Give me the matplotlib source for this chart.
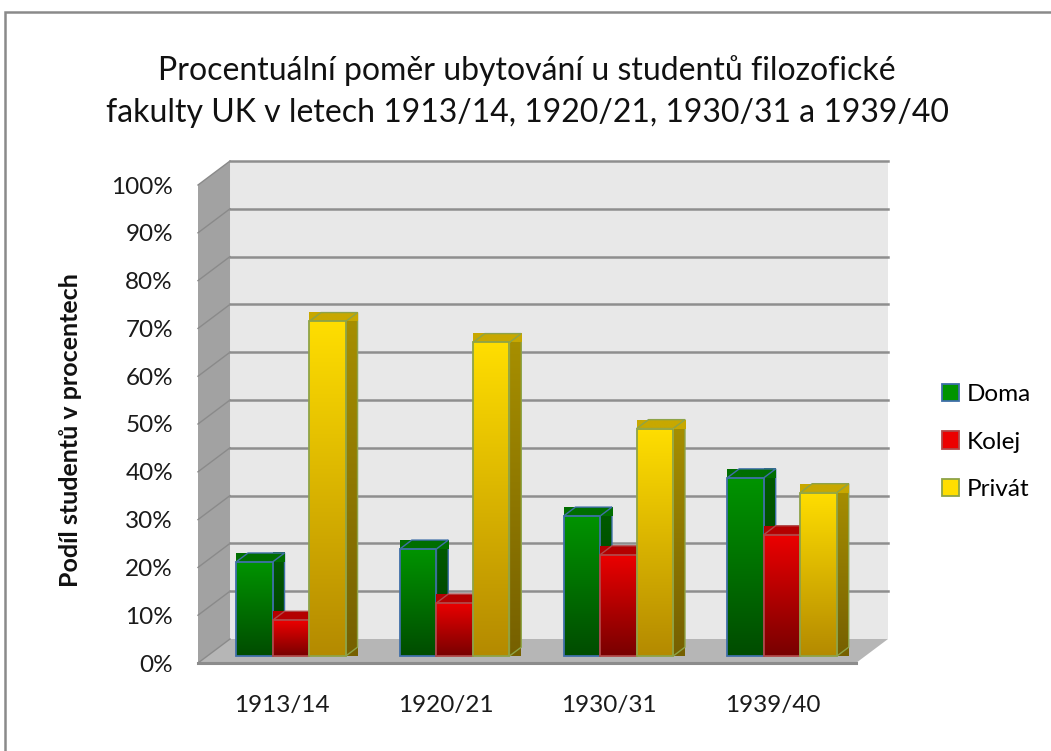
import numpy as np
import matplotlib
matplotlib.use("Agg")
import matplotlib.pyplot as plt
from matplotlib.patches import Polygon, Rectangle, Patch
from matplotlib.colors import LinearSegmentedColormap

plt.rcParams['font.family'] = ['Lato', 'DejaVu Sans']

# data (percent of students)
years = ['1913/14', '1920/21', '1930/31', '1939/40']
series = ['Doma', 'Kolej', 'Privát']
doma = [19.7, 22.4, 29.3, 37.3]
kolej = [7.5, 11.1, 21.2, 25.4]
privat = [70.0, 65.6, 47.6, 34.2]
yticks = list(range(0, 101, 10))

title = ('Procentuální poměr ubytování u studentů filozofické\n'
         'fakulty UK v letech 1913/14, 1920/21, 1930/31 a 1939/40')
ylabel = 'Podíl studentů v procentech'

# colours: (front top, front bottom, side top, side bottom, top face, edge)
styles = [
    ('#009400', '#004c00', '#005c00', '#003800', '#006e00', '#3f6fa8'),
    ('#ec0000', '#780000', '#a00000', '#5c0000', '#b40000', '#b04848'),
    ('#ffde00', '#b48a00', '#a89000', '#766000', '#c8a800', '#8ea348'),
]

W, H = 1051, 751
fig = plt.figure(figsize=(W / 100, H / 100), dpi=100)
ax = fig.add_axes([198 / W, 1 - 663 / H, (856 - 198) / W, (663 - 185) / H])
XMIN, XMAX = -0.511, 3.508
DX, DY = 32 / 163.7, 24 / 4.78   # depth offset in data units
D0, D1 = 0.29, 0.66              # bar depth range
BW = 0.223


def P(x, y, d):
    return (x + d * DX, y + d * DY)


def face(verts, c1, c2, z, edge=None, lw=1.3):
    poly = Polygon(verts, closed=True, facecolor='none',
                   edgecolor=edge if edge else 'none', lw=lw, zorder=z + 0.1,
                   clip_on=False)
    ax.add_patch(poly)
    xs = [p[0] for p in verts]
    ys = [p[1] for p in verts]
    cmap = LinearSegmentedColormap.from_list('g', [c2, c1])
    grad = np.linspace(0, 1, 128).reshape(-1, 1)
    im = ax.imshow(grad, extent=[min(xs), max(xs), min(ys), max(ys)],
                   origin='lower', cmap=cmap, aspect='auto', zorder=z,
                   interpolation='bilinear', clip_on=False)
    im.set_clip_path(poly)


# walls
back = [P(XMIN, 0, 1), P(XMAX, 0, 1), P(XMAX, 100, 1), P(XMIN, 100, 1)]
ax.add_patch(Polygon(back, closed=True, facecolor='#e8e8e8', edgecolor='none',
                     zorder=1, clip_on=False))
left = [P(XMIN, 0, 0), P(XMIN, 0, 1), P(XMIN, 100, 1), P(XMIN, 100, 0)]
ax.add_patch(Polygon(left, closed=True, facecolor='#a2a2a2', edgecolor='none',
                     zorder=1, clip_on=False))
floor = [P(XMIN, 0, 0), P(XMAX, 0, 0), P(XMAX, 0, 1), P(XMIN, 0, 1)]
ax.add_patch(Polygon(floor, closed=True, facecolor='#b6b6b6', edgecolor='none',
                     zorder=1, clip_on=False))
ax.plot([P(XMIN, 0, 0)[0], P(XMAX, 0, 0)[0]], [0, 0], color='#8c8c8c',
        lw=2.2, zorder=1.5, clip_on=False)

for t in yticks:
    a, b, c = P(XMIN, t, 0), P(XMIN, t, 1), P(XMAX, t, 1)
    ax.plot([a[0], b[0]], [a[1], b[1]], color='#8a8a8a', lw=1.0, zorder=1.2,
            clip_on=False)
    if t > 0:
        ax.plot([b[0], c[0]], [b[1], c[1]], color='#8e8e8e', lw=1.8,
                zorder=1.2, clip_on=False)

# bars
values = [doma, kolej, privat]
z = 2
for i in range(len(years)):
    for j, vals in enumerate(values):
        v = vals[i]
        ft, fb, st, sb, tc, ec = styles[j]
        xl = i + (j - 1.5) * BW
        xr = xl + BW
        front = [P(xl, 0, D0), P(xr, 0, D0), P(xr, v, D0), P(xl, v, D0)]
        side = [P(xr, 0, D0), P(xr, 0, D1), P(xr, v, D1), P(xr, v, D0)]
        top = [P(xl, v, D0), P(xr, v, D0), P(xr, v, D1), P(xl, v, D1)]
        face(side, st, sb, z, ec, 1.0)
        face(top, tc, tc, z + 0.2, ec, 1.0)
        face(front, ft, fb, z + 0.4, ec, 1.3)
        z += 1

ax.set_xlim(XMIN, XMAX)
ax.set_ylim(0, 100)
for s in ax.spines.values():
    s.set_visible(False)
ax.set_yticks(yticks, labels=[f'{t}%' for t in yticks])
ax.set_xticks(range(len(years)), labels=years)
ax.tick_params(axis='y', length=0, pad=18, labelsize=17.5, colors='#1a1a1a')
ax.tick_params(axis='x', length=0, pad=23, labelsize=17.5, colors='#1a1a1a')

fig.text(71 / W, 1 - 430 / H, ylabel, rotation=90, ha='center', va='center',
         fontsize=18, fontweight='bold', color='#111111')
fig.text(527 / W, 1 - 92 / H, title, ha='center', va='center', fontsize=23,
         linespacing=1.5, color='#111111')

handles = [Patch(facecolor=styles[k][0], edgecolor=styles[k][5], lw=1.3)
           for k in range(3)]
fig.legend(handles, series, loc='center left',
           bbox_to_anchor=(942 / W, 1 - 442 / H), frameon=False, fontsize=17.5,
           handlelength=0.7, handleheight=0.7, handletextpad=0.3,
           labelspacing=1.08, borderpad=0, borderaxespad=0)

fig.patches.append(Rectangle((5 / W, -0.02), 1.1, 1 - 12 / H + 0.02,
                             transform=fig.transFigure, facecolor='none',
                             edgecolor='#8a8a8a', lw=1.8))

fig.savefig('out.png', dpi=100)
